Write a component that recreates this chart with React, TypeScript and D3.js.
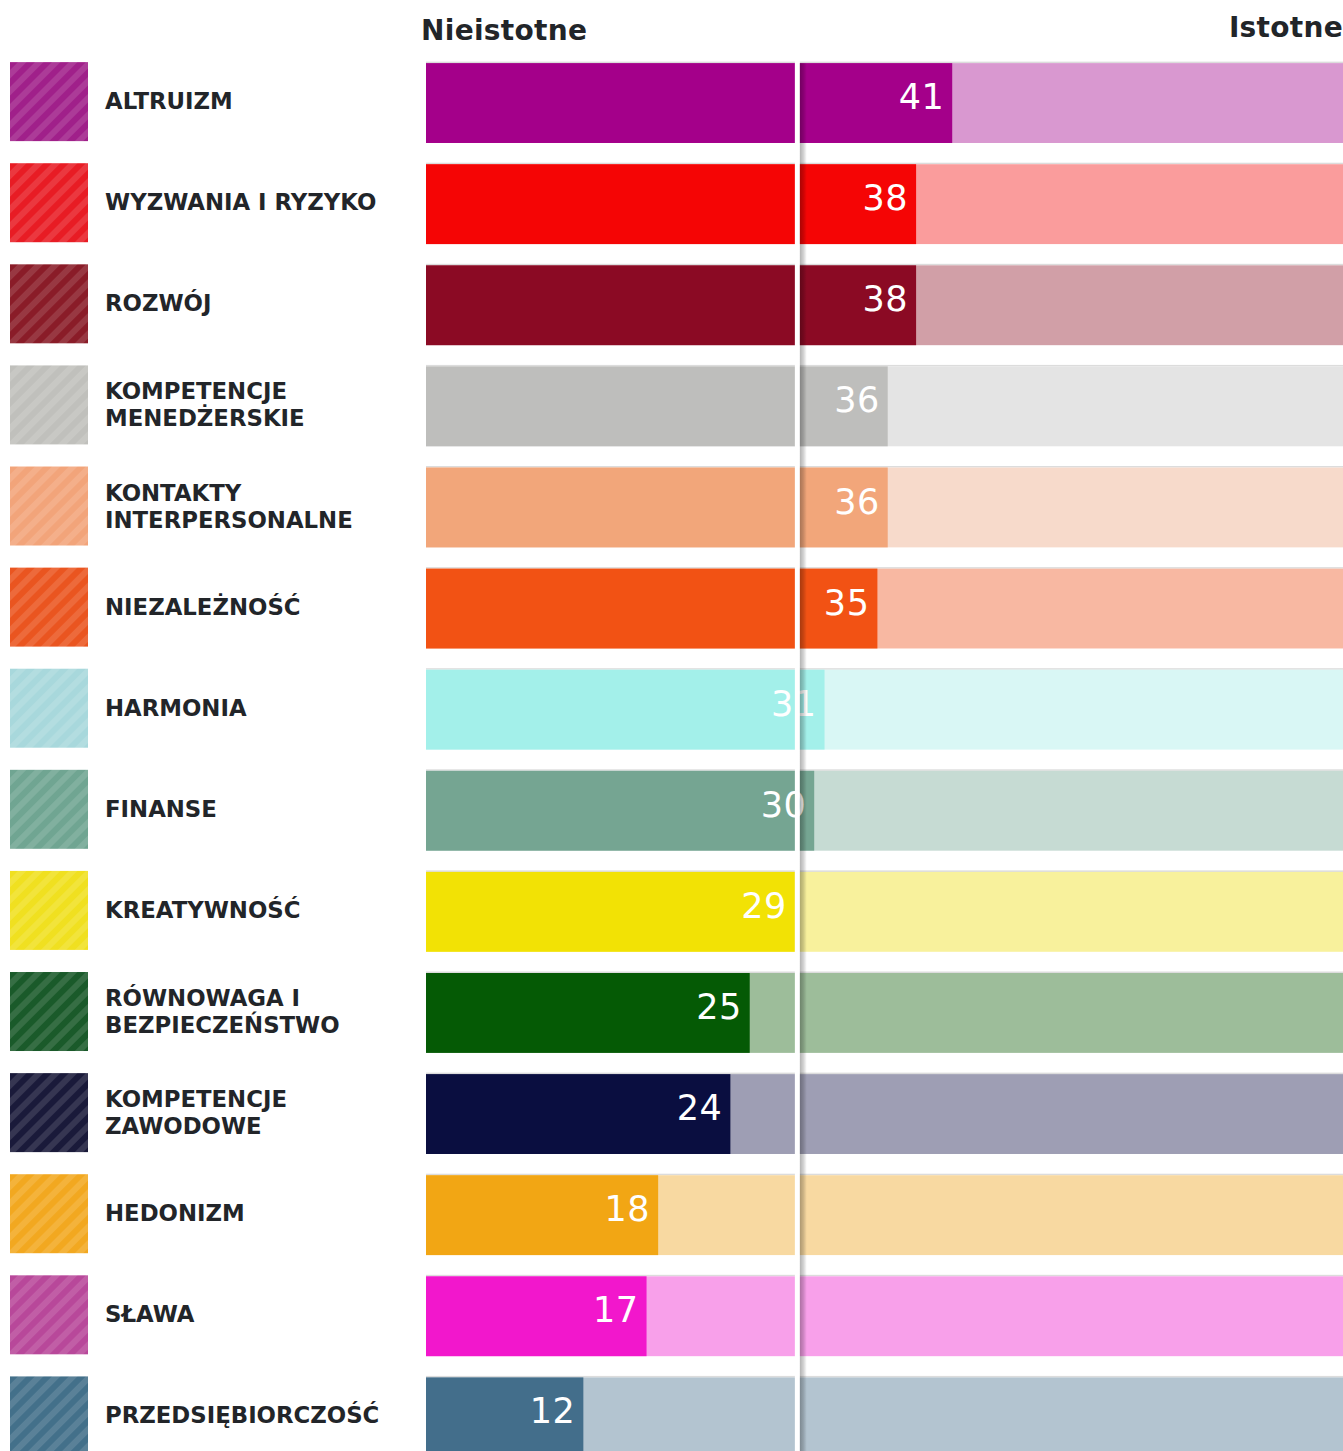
import { useEffect, useRef } from 'react';
import * as d3 from 'd3';

const categories = [
  ['ALTRUIZM'],
  ['WYZWANIA I RYZYKO'],
  ['ROZWÓJ'],
  ['KOMPETENCJE', 'MENEDŻERSKIE'],
  ['KONTAKTY', 'INTERPERSONALNE'],
  ['NIEZALEŻNOŚĆ'],
  ['HARMONIA'],
  ['FINANSE'],
  ['KREATYWNOŚĆ'],
  ['RÓWNOWAGA I', 'BEZPIECZEŃSTWO'],
  ['KOMPETENCJE', 'ZAWODOWE'],
  ['HEDONIZM'],
  ['SŁAWA'],
  ['PRZEDSIĘBIORCZOŚĆ'],
];

const values = [40.8, 38.0, 38.0, 35.8, 35.8, 35.0, 30.9, 30.1, 28.6, 25.1, 23.6, 18.0, 17.1, 12.2];

const barColors = [
  '#a4008a', '#f50505', '#8b0a24', '#bebebc', '#f2a67a', '#f25214', '#a3f0ea',
  '#75a592', '#f2e205', '#055a05', '#0a0e40', '#f2a614', '#f217cc', '#436e8b',
];

const lightColors = [
  '#d998d0', '#fa9c9c', '#d19fa7', '#e4e4e4', '#f7dacb', '#f8b8a2', '#d9f7f5',
  '#c6dbd3', '#f8f19c', '#9dbd9a', '#9e9eb4', '#f8d9a1', '#f8a0ea', '#b3c4d0',
];

const swatchColors = [
  '#a0208a', '#e81c24', '#8a1c28', '#c0c0bc', '#f2a47a', '#ea5520', '#a8d8dc',
  '#70a592', '#f0e020', '#1a5a2a', '#1a1a3a', '#f2a820', '#b8489a', '#43708a',
];

const leftHeader = 'Nieistotne';
const rightHeader = 'Istotne';
const midValue = 28.6;

export default function App() {
  const svgRef = useRef<SVGSVGElement>(null);
  const width = 1343;
  const height = 1451;

  useEffect(() => {
    if (!svgRef.current) return;
    const svg = d3.select(svgRef.current);
    svg.selectAll('*').remove();

    const font = "'DejaVu Sans', sans-serif";
    const x = d3.scaleLinear().domain([0, 71.1]).range([426, 1343]);
    const y = d3
      .scaleBand()
      .domain(categories.map((_, i) => String(i)))
      .range([63 - 10.5, 63 - 10.5 + 101.1 * categories.length])
      .paddingInner(0.21)
      .paddingOuter(0.105);
    const bh = y.bandwidth();

    const defs = svg.append('defs');
    swatchColors.forEach((c, i) => {
      const p = defs
        .append('pattern')
        .attr('id', `stripe${i}`)
        .attr('patternUnits', 'userSpaceOnUse')
        .attr('width', 12)
        .attr('height', 12)
        .attr('patternTransform', 'rotate(45)');
      p.append('rect').attr('width', 12).attr('height', 12).attr('fill', c);
      p.append('rect').attr('width', 6).attr('height', 12).attr('fill', '#fff').attr('opacity', 0.12);
    });
    const grad = defs
      .append('linearGradient')
      .attr('id', 'shadow')
      .attr('x1', 0)
      .attr('x2', 1)
      .attr('y1', 0)
      .attr('y2', 0);
    grad.append('stop').attr('offset', 0).attr('stop-color', '#000').attr('stop-opacity', 0.3);
    grad.append('stop').attr('offset', 0.5).attr('stop-color', '#000').attr('stop-opacity', 0.18);
    grad.append('stop').attr('offset', 1).attr('stop-color', '#000').attr('stop-opacity', 0);

    // headers
    svg
      .append('text')
      .attr('x', 421)
      .attr('y', 40)
      .attr('font-family', font)
      .attr('font-weight', 'bold')
      .attr('font-size', 28)
      .attr('letter-spacing', 0.3)
      .attr('fill', '#222529')
      .text(leftHeader);
    svg
      .append('text')
      .attr('x', 1343)
      .attr('y', 37)
      .attr('text-anchor', 'end')
      .attr('font-family', font)
      .attr('font-weight', 'bold')
      .attr('font-size', 28)
      .attr('letter-spacing', 0.3)
      .attr('fill', '#222529')
      .text(rightHeader);

    const rows = svg
      .selectAll('g.row')
      .data(values)
      .enter()
      .append('g')
      .attr('class', 'row')
      .attr('transform', (_, i) => `translate(0,${y(String(i))})`);

    // swatches
    rows
      .append('rect')
      .attr('x', 10)
      .attr('y', -1)
      .attr('width', 78)
      .attr('height', 79)
      .attr('fill', (_, i) => `url(#stripe${i})`);

    // labels
    rows.each(function (_, i) {
      const lines = categories[i];
      const t = d3
        .select(this)
        .append('text')
        .attr('font-family', font)
        .attr('font-weight', 'bold')
        .attr('font-size', 22.8)
        .attr('fill', '#222529');
      const base = lines.length === 1 ? 46 : 33;
      lines.forEach((l, k) => {
        t.append('tspan').attr('x', 105).attr('y', base + k * 27).text(l);
      });
    });

    // top hairline
    rows
      .append('rect')
      .attr('x', x(0))
      .attr('y', -1.5)
      .attr('width', x.range()[1] - x(0))
      .attr('height', 1.5)
      .attr('fill', '#dcdcdc');

    // light background
    rows
      .append('rect')
      .attr('x', x(0))
      .attr('y', 0)
      .attr('width', x.range()[1] - x(0))
      .attr('height', bh)
      .attr('fill', (_, i) => lightColors[i]);

    // bars
    rows
      .append('rect')
      .attr('x', x(0))
      .attr('y', 0)
      .attr('width', (d) => x(d) - x(0))
      .attr('height', bh)
      .attr('fill', (_, i) => barColors[i]);

    // value labels
    rows
      .append('text')
      .attr('x', (d) => x(d) - 8)
      .attr('y', 46)
      .attr('text-anchor', 'end')
      .attr('font-family', font)
      .attr('font-size', 35)
      .attr('letter-spacing', 0.5)
      .attr('fill', '#fff')
      .text((d) => String(Math.round(d)));

    // centre gap and shadow
    const mx = x(midValue);
    const top = y('0') as number;
    svg
      .append('rect')
      .attr('x', mx)
      .attr('y', top - 2)
      .attr('width', 5)
      .attr('height', height - top + 2)
      .attr('fill', '#fff');
    svg
      .append('rect')
      .attr('x', mx + 5)
      .attr('y', top)
      .attr('width', 7)
      .attr('height', height - top)
      .attr('fill', 'url(#shadow)');
  }, []);

  return (
    <svg
      ref={svgRef}
      width={width}
      height={height}
      style={{ position: 'absolute', left: 0, top: 0, display: 'block', background: '#fff' }}
    />
  );
}
